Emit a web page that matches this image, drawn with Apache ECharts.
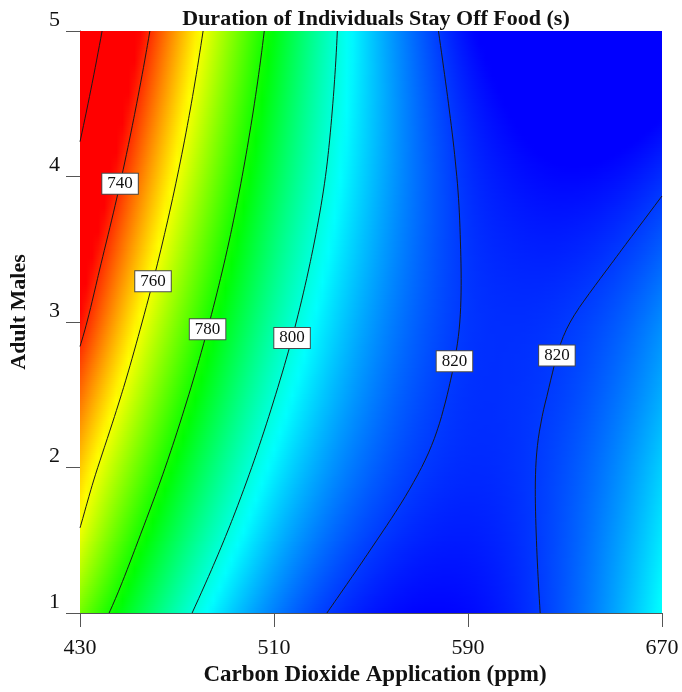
<!DOCTYPE html>
<html>
<head>
<meta charset="utf-8">
<script src="https://cdn.jsdelivr.net/npm/echarts@6/dist/echarts.min.js"></script>
<style>
  html, body { margin: 0; padding: 0; background: #ffffff; }
  #chart { width: 682px; height: 692px; }
</style>
</head>
<body>
<div id="chart"></div>
<script>
// Grid columns: CO2 applied (ppm)
const co2Ppm = [430, 450, 470, 490, 510, 530, 550, 570, 590, 610, 630, 650, 670];
// Grid rows: number of adult males
const adultMales = [1, 1.5, 2, 2.5, 3, 3.5, 4, 4.5, 5];
// Duration individuals stay off food (s); one row per adultMales entry, one column per co2Ppm entry
const offFoodDuration = [
  [771.6, 785.2, 796.8, 806.4, 814.0, 819.6, 823.1, 824.7, 824.3, 821.9, 817.5, 811.1, 802.7],
  [761.4, 777.2, 789.8, 800.3, 808.9, 815.2, 819.6, 822.1, 822.7, 821.2, 817.7, 812.2, 804.8],
  [754.1, 769.6, 783.1, 794.6, 804.1, 811.2, 816.4, 819.9, 821.4, 820.8, 818.2, 813.7, 807.2],
  [745.9, 762.3, 776.8, 789.2, 799.7, 807.7, 813.9, 818.3, 820.8, 820.8, 819.2, 815.6, 810.1],
  [737.2, 755.4, 770.8, 784.2, 795.6, 804.6, 811.7, 817.0, 820.4, 821.1, 820.2, 817.6, 813.0],
  [730.5, 748.8, 765.2, 779.5, 791.9, 801.8, 809.8, 816.1, 820.5, 822.1, 822.2, 820.5, 816.9],
  [723.3, 742.6, 759.9, 775.2, 788.5, 799.4, 808.4, 815.7, 821.0, 823.6, 824.6, 823.9, 821.2],
  [716.5, 736.8, 755.0, 771.3, 785.5, 797.7, 807.7, 816.0, 822.2, 825.7, 827.5, 827.8, 826.0],
  [710.1, 731.3, 750.5, 767.7, 782.9, 796.3, 807.7, 816.9, 824.1, 828.2, 830.8, 832.0, 831.2]
];
// Contour levels drawn as lines
const contourLevels = [720, 740, 760, 780, 800, 820];
// Levels that carry a boxed label
const labelledLevels = [740, 760, 780, 800, 820, 820];
// Axis ticks
const xTickValues = [430, 510, 590, 670];
const yTickValues = [1, 2, 3, 4, 5];

// Label placement along each labelled contour: [approx ppm of branch, males]
const labelAnchors = [[445, 3.95], [460, 3.28], [482, 2.95], [517, 2.89], [585, 2.73], [627, 2.77]];

const SERIF = '"Liberation Serif", "Times New Roman", serif';

// Rainbow colour ramp: low = red, high = blue
const rampStops = [
  [736, [255, 0, 0]],
  [759, [255, 255, 0]],
  [782, [0, 255, 0]],
  [803, [0, 255, 255]],
  [825, [0, 0, 255]]
];
function rampColor(v) {
  if (v <= rampStops[0][0]) return 'rgb(255,0,0)';
  if (v >= rampStops[rampStops.length - 1][0]) return 'rgb(0,0,255)';
  for (let k = 0; k < rampStops.length - 1; k++) {
    const a = rampStops[k], b = rampStops[k + 1];
    if (v <= b[0]) {
      const t = (v - a[0]) / (b[0] - a[0]);
      const c = a[1].map((ch, n) => Math.round(ch + (b[1][n] - ch) * t));
      return 'rgb(' + c.join(',') + ')';
    }
  }
  return 'rgb(0,0,255)';
}

// Smooth (Catmull-Rom) reading of the gridded surface between grid nodes
const NX = co2Ppm.length, NY = adultMales.length;
function node(i, j) {
  if (i < 0) return 3 * node(0, j) - 3 * node(1, j) + node(2, j);
  if (i >= NX) return 3 * node(NX - 1, j) - 3 * node(NX - 2, j) + node(NX - 3, j);
  if (j < 0) return 3 * node(i, 0) - 3 * node(i, 1) + node(i, 2);
  if (j >= NY) return 3 * node(i, NY - 1) - 3 * node(i, NY - 2) + node(i, NY - 3);
  return offFoodDuration[j][i];
}
function catmull(p0, p1, p2, p3, t) {
  return 0.5 * (2 * p1 + (p2 - p0) * t + (2 * p0 - 5 * p1 + 4 * p2 - p3) * t * t + (3 * p1 - p0 - 3 * p2 + p3) * t * t * t);
}
function fieldAt(ppm, males) {
  const fx = (ppm - co2Ppm[0]) / (co2Ppm[1] - co2Ppm[0]);
  const fy = (males - adultMales[0]) / (adultMales[1] - adultMales[0]);
  const i = Math.min(Math.max(Math.floor(fx), 0), NX - 2);
  const j = Math.min(Math.max(Math.floor(fy), 0), NY - 2);
  const tx = fx - i, ty = fy - j;
  const rows = [];
  for (let r = -1; r <= 2; r++) {
    rows.push(catmull(node(i - 1, j + r), node(i, j + r), node(i + 1, j + r), node(i + 2, j + r), tx));
  }
  return catmull(rows[0], rows[1], rows[2], rows[3], ty);
}

// Fine sampling lattice used for tracing contour lines
const fineX = [], fineY = [];
for (let k = 0; k <= 96; k++) fineX.push(430 + 2.5 * k);
for (let k = 0; k <= 80; k++) fineY.push(1 + 0.05 * k);
const fineV = fineY.map(y => fineX.map(x => fieldAt(x, y)));

// Marching squares over the fine lattice; returns polylines in data coordinates
function traceContour(level) {
  const nx = fineX.length, ny = fineY.length;
  const pos = {}, links = {};
  const val = (i, j) => fineV[j][i];
  const above = (i, j) => val(i, j) >= level;
  function edge(i0, j0, i1, j1) {
    if (above(i0, j0) === above(i1, j1)) return null;
    const key = i0 + ',' + j0 + ',' + i1 + ',' + j1;
    if (!pos[key]) {
      const v0 = val(i0, j0), v1 = val(i1, j1);
      const t = (level - v0) / (v1 - v0);
      pos[key] = [
        fineX[i0] + t * (fineX[i1] - fineX[i0]),
        fineY[j0] + t * (fineY[j1] - fineY[j0])
      ];
      links[key] = [];
    }
    return key;
  }
  function link(a, b) { links[a].push(b); links[b].push(a); }
  for (let j = 0; j < ny - 1; j++) {
    for (let i = 0; i < nx - 1; i++) {
      const bottom = edge(i, j, i + 1, j);
      const right = edge(i + 1, j, i + 1, j + 1);
      const top = edge(i, j + 1, i + 1, j + 1);
      const left = edge(i, j, i, j + 1);
      const hits = [bottom, right, top, left].filter(Boolean);
      if (hits.length === 2) {
        link(hits[0], hits[1]);
      } else if (hits.length === 4) {
        const mid = (val(i, j) + val(i + 1, j) + val(i + 1, j + 1) + val(i, j + 1)) / 4;
        if ((mid >= level) === above(i, j)) { link(bottom, right); link(top, left); }
        else { link(bottom, left); link(top, right); }
      }
    }
  }
  const keys = Object.keys(links);
  const starts = keys.filter(k => links[k].length === 1).concat(keys);
  const used = new Set();
  const chains = [];
  starts.forEach(s => {
    if (used.has(s)) return;
    const chain = [];
    let cur = s, prev = null;
    while (cur && !used.has(cur)) {
      used.add(cur);
      chain.push(pos[cur]);
      const nxt = links[cur].find(n => n !== prev && !used.has(n));
      prev = cur;
      cur = nxt;
    }
    if (chain.length > 1) chains.push(chain);
  });
  return chains;
}

// Where a contour crosses a given males value, nearest to the branch hint
function labelPoint(level, anchor) {
  let best = null;
  const m = anchor[1];
  traceContour(level).forEach(chain => {
    for (let k = 0; k < chain.length - 1; k++) {
      const a = chain[k], b = chain[k + 1];
      if ((a[1] - m) * (b[1] - m) <= 0 && a[1] !== b[1]) {
        const t = (m - a[1]) / (b[1] - a[1]);
        const x = a[0] + t * (b[0] - a[0]);
        if (!best || Math.abs(x - anchor[0]) < Math.abs(best[0] - anchor[0])) best = [x, m];
      }
    }
  });
  return best || anchor;
}

// One band per pair of neighbouring grid rows; each band is painted in thin
// horizontal strips whose colours follow the surface across the x range
const bandData = [];
for (let j = 0; j < NY - 1; j++) {
  bandData.push([co2Ppm[0], adultMales[j], co2Ppm[NX - 1], adultMales[j + 1]]);
}

function renderBand(params, api) {
  const x0 = api.value(0), y0 = api.value(1), x1 = api.value(2), y1 = api.value(3);
  const pBL = api.coord([x0, y0]);
  const pTR = api.coord([x1, y1]);
  const top = Math.round(pTR[1]);
  const bottom = Math.round(pBL[1]);
  const left = pBL[0], width = pTR[0] - pBL[0];
  const children = [];
  const step = 2;
  const nStops = 96;
  for (let y = top; y < bottom; y += step) {
    const cy = Math.min(y + step / 2, bottom);
    const males = y1 + (cy - pTR[1]) / (pBL[1] - pTR[1]) * (y0 - y1);
    const colorStops = [];
    for (let s = 0; s <= nStops; s++) {
      const ppm = x0 + (x1 - x0) * s / nStops;
      colorStops.push({ offset: s / nStops, color: rampColor(fieldAt(ppm, males)) });
    }
    children.push({
      type: 'rect',
      shape: { x: left, y: y, width: width, height: Math.min(step + 1, bottom - y + 1) },
      style: {
        fill: { type: 'linear', x: 0, y: 0, x2: 1, y2: 0, colorStops: colorStops },
        stroke: null
      },
      silent: true
    });
  }
  return { type: 'group', children: children };
}

const series = [{
  type: 'custom',
  renderItem: renderBand,
  data: bandData,
  encode: { x: [0, 2], y: [1, 3] },
  clip: true,
  silent: true,
  z: 1
}];

contourLevels.forEach(level => {
  traceContour(level).forEach(chain => {
    series.push({
      type: 'line',
      data: chain,
      showSymbol: false,
      symbol: 'none',
      smooth: false,
      clip: true,
      silent: true,
      lineStyle: { color: '#1a1a1a', width: 1 },
      z: 3
    });
  });
});

series.push({
  type: 'scatter',
  data: labelledLevels.map((lv, k) => {
    const p = labelPoint(lv, labelAnchors[k]);
    return [p[0], p[1], lv];
  }),
  symbolSize: 2,
  itemStyle: { color: 'rgba(0,0,0,0)', opacity: 1 },
  silent: true,
  z: 5,
  label: {
    show: true,
    position: 'inside',
    formatter: p => String(p.value[2]),
    fontFamily: SERIF,
    fontSize: 17,
    color: '#111',
    opacity: 1,
    backgroundColor: '#ffffff',
    borderColor: '#4a4a4a',
    borderWidth: 1,
    padding: [2, 5, 1, 5]
  }
});

const chart = echarts.init(document.getElementById('chart'), null, { renderer: 'canvas' });
chart.setOption({
  animation: false,
  backgroundColor: '#ffffff',
  title: {
    text: 'Duration of Individuals Stay Off Food (s)',
    left: 371,
    top: 3,
    textAlign: 'center',
    textStyle: { fontFamily: SERIF, fontWeight: 'bold', fontSize: 22, color: '#111' }
  },
  grid: { left: 80, right: 20, top: 31, bottom: 79, containLabel: false },
  xAxis: {
    type: 'value',
    min: 430,
    max: 670,
    name: 'Carbon Dioxide Application (ppm)',
    nameLocation: 'middle',
    nameGap: 45,
    nameTextStyle: { fontFamily: SERIF, fontWeight: 'bold', fontSize: 23, color: '#111', padding: [0, 0, 0, 8] },
    axisLine: { show: true, onZero: false, lineStyle: { color: '#555', width: 1 } },
    axisTick: { show: true, length: 14, customValues: xTickValues, lineStyle: { color: '#555' } },
    axisLabel: { customValues: xTickValues, fontFamily: SERIF, fontSize: 22, color: '#111', margin: 24 },
    splitLine: { show: false }
  },
  yAxis: {
    type: 'value',
    min: 1,
    max: 5,
    interval: 1,
    name: 'Adult Males',
    nameLocation: 'middle',
    nameGap: 50,
    nameRotate: 90,
    nameTextStyle: { fontFamily: SERIF, fontWeight: 'bold', fontSize: 22, color: '#111', padding: [0, 0, 0, 20] },
    axisLine: { show: true, onZero: false, lineStyle: { color: '#555', width: 1 } },
    axisTick: { show: true, length: 14, customValues: yTickValues, lineStyle: { color: '#555' } },
    axisLabel: { customValues: yTickValues, fontFamily: SERIF, fontSize: 22, color: '#111', margin: 20, verticalAlign: 'bottom' },
    splitLine: { show: false }
  },
  series: series
});
</script>
</body>
</html>
